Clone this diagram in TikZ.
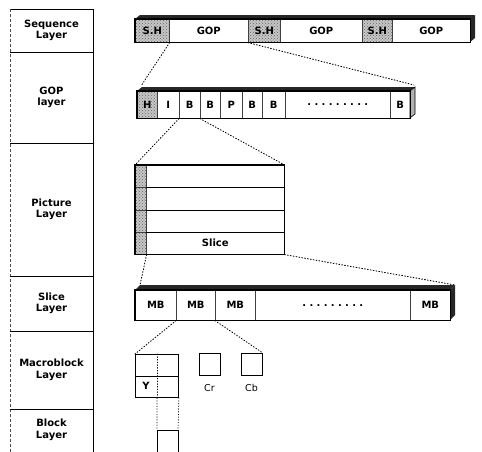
\documentclass[tikz,border=0pt]{standalone}
\usepackage{fontspec}
\setmainfont{DejaVu Sans}
\usetikzlibrary{calc,patterns}
\begin{document}
\begin{tikzpicture}[x=1pt,y=-1pt,
  lab/.style={font=\bfseries\fontsize{10}{11.5}\selectfont, align=center, inner sep=0pt},
  seg/.style={draw=black!75, line width=0.6pt, inner sep=0pt, anchor=north west,
              font=\bfseries\fontsize{10}{11}\selectfont},
  shd/.style={seg, preaction={fill=gray!45}, pattern=crosshatch dots, pattern color=black!60},
  outline/.style={draw=black, line width=1.1pt},
  face/.style={fill=black!85},
  sidef/.style={fill=gray!60, draw=black, line width=0.6pt},
  dotl/.style={dotted, line width=0.9pt, line cap=round},
  col/.style={draw=black, line width=0.8pt}
]
\useasboundingbox (0,0) rectangle (482,451);
\clip (0,0) rectangle (482,451);

% ---------- left column ----------
\draw[col] (10,9) -- (93,9);
\draw[col] (93,9) -- (93,455);
\draw[densely dashed, line width=0.4pt, black!70] (10,9) -- (10,455);
\foreach \yy in {52,143,276,331,409} \draw[col] (10,\yy) -- (93,\yy);
\node[lab] (lseq) at (51.5,30.5) {Sequence\\Layer};
\node[lab] (lgop) at (51.5,97.5) {GOP\\layer};
\node[lab] (lpic) at (51.5,209.5) {Picture\\Layer};
\node[lab] (lsli) at (51.5,303.5) {Slice\\Layer};
\node[lab] (lmb) at (51.5,370) {Macroblock\\Layer};
\node[lab] (lblk) at (51.5,430) {Block\\Layer};

% ---------- sequence bar ----------
\fill[face] (135,19) -- (140,15) -- (475,15) -- (470,19) -- cycle;
\fill[face] (470,19) -- (475,15) -- (475,38) -- (470,42) -- cycle;
\node[shd, minimum width=34pt, minimum height=23pt] (sh1) at (135,19) {S.H};
\node[seg, minimum width=79pt, minimum height=23pt] (gop1) at (169,19) {GOP};
\node[shd, minimum width=32pt, minimum height=23pt] (sh2) at (248,19) {S.H};
\node[seg, minimum width=82pt, minimum height=23pt] (gop2) at (280,19) {GOP};
\node[shd, minimum width=30pt, minimum height=23pt] (sh3) at (362,19) {S.H};
\node[seg, minimum width=78pt, minimum height=23pt] (gop3) at (392,19) {GOP};
\draw[outline] (sh1.north west) rectangle (gop3.south east);

% ---------- GOP bar ----------
\fill[face] (137,91) -- (142,87) -- (415,87) -- (410,91) -- cycle;
\filldraw[sidef] (410,91) -- (415,87) -- (415,114) -- (410,118) -- cycle;
\node[shd, minimum width=20pt, minimum height=27pt] (gh) at (137,91) {H};
\node[seg, minimum width=22pt, minimum height=27pt] (gi) at (157,91) {I};
\node[seg, minimum width=21pt, minimum height=27pt] (gb1) at (179,91) {B};
\node[seg, minimum width=20pt, minimum height=27pt] (gb2) at (200,91) {B};
\node[seg, minimum width=22pt, minimum height=27pt] (gp) at (220,91) {P};
\node[seg, minimum width=20pt, minimum height=27pt] (gb3) at (242,91) {B};
\node[seg, minimum width=23pt, minimum height=27pt] (gb4) at (262,91) {B};
\node[seg, minimum width=105pt, minimum height=27pt] (gdots) at (285,91) {.\,\,.\,\,.\,\,.\,\,.\,\,.\,\,.\,\,.\,\,.};
\node[seg, minimum width=20pt, minimum height=27pt] (gb5) at (390,91) {B};
\draw[outline] (gh.north west) rectangle (gb5.south east);

% ---------- picture ----------
\foreach \i/\yy in {1/165,2/187.25,3/209.5,4/231.75}{
  \node[shd, minimum width=11pt, minimum height=22.25pt] (ps\i) at (135,\yy) {};
}
\node[seg, minimum width=138pt, minimum height=22.25pt] (pr1) at (146,165) {};
\node[seg, minimum width=138pt, minimum height=22.25pt] (pr2) at (146,187.25) {};
\node[seg, minimum width=138pt, minimum height=22.25pt] (pr3) at (146,209.5) {};
\node[seg, minimum width=138pt, minimum height=22.25pt] (pr4) at (146,231.75) {Slice};
\draw[outline] (ps1.north west) rectangle (pr4.south east);
\draw[line width=0.9pt] (pr1.south west) -- (pr1.south east)
  (pr2.south west) -- (pr2.south east) (pr3.south west) -- (pr3.south east);

% ---------- slice bar ----------
\fill[face] (135,290) -- (140,285) -- (455,285) -- (450,290) -- cycle;
\fill[face] (450,290) -- (455,285) -- (455,315) -- (450,320) -- cycle;
\node[seg, minimum width=41pt, minimum height=30pt] (mb1) at (135,290) {MB};
\node[seg, minimum width=39pt, minimum height=30pt] (mb2) at (176,290) {MB};
\node[seg, minimum width=40pt, minimum height=30pt] (mb3) at (215,290) {MB};
\node[seg, minimum width=155pt, minimum height=30pt] (mdots) at (255,290) {.\,\,.\,\,.\,\,.\,\,.\,\,.\,\,.\,\,.\,\,.};
\node[seg, minimum width=40pt, minimum height=30pt] (mb4) at (410,290) {MB};
\draw[outline] (mb1.north west) rectangle (mb4.south east);

% ---------- macroblock ----------
\node[draw=black, line width=0.9pt, minimum width=43pt, minimum height=43pt, inner sep=0pt, anchor=north west] (yb) at (135,354) {};
\draw[line width=0.9pt] (yb.west) -- (yb.east);
\draw[dotl, line width=0.7pt] (yb.north) -- (yb.south);
\node[font=\bfseries\fontsize{10}{11}\selectfont, inner sep=0pt] (ylab) at (146,386) {Y};
\node[draw=black, line width=0.9pt, minimum width=21pt, minimum height=22pt, inner sep=0pt, anchor=north west] (cr) at (199,353) {};
\node[draw=black, line width=0.9pt, minimum width=21pt, minimum height=22pt, inner sep=0pt, anchor=north west] (cb) at (241,353) {};
\node[font=\fontsize{9.5}{10}\selectfont, inner sep=0pt] (crl) at (209.5,388) {Cr};
\node[font=\fontsize{9.5}{10}\selectfont, inner sep=0pt] (cbl) at (251.5,388) {Cb};

% ---------- block ----------
\coordinate (bk1) at (157,430);
\coordinate (bk2) at (178,430);
\draw[line width=0.9pt] (157,460) -- (bk1) -- (bk2) -- (178,460);

% ---------- dotted connectors ----------
\draw[dotl] (sh1.south east) -- ($(gh.north west)+(4,-5)$);
\draw[dotl] (sh2.south west) -- (414,85);
\draw[dotl] (gb1.south west) -- (ps1.north west);
\draw[dotl] (gb2.south west) -- (pr1.north east);
\draw[dotl] (ps4.south east) -- (140,285);
\draw[dotl] (pr4.south east) -- (455,285);
\draw[dotl] (mb2.south west) -- (yb.north west);
\draw[dotl] (mb3.south west) -- (cb.north east);
\draw[dotl, line width=0.7pt] (yb.south) -- (bk1);
\draw[dotl, line width=0.7pt] (yb.south east) -- (bk2);
\end{tikzpicture}
\end{document}
